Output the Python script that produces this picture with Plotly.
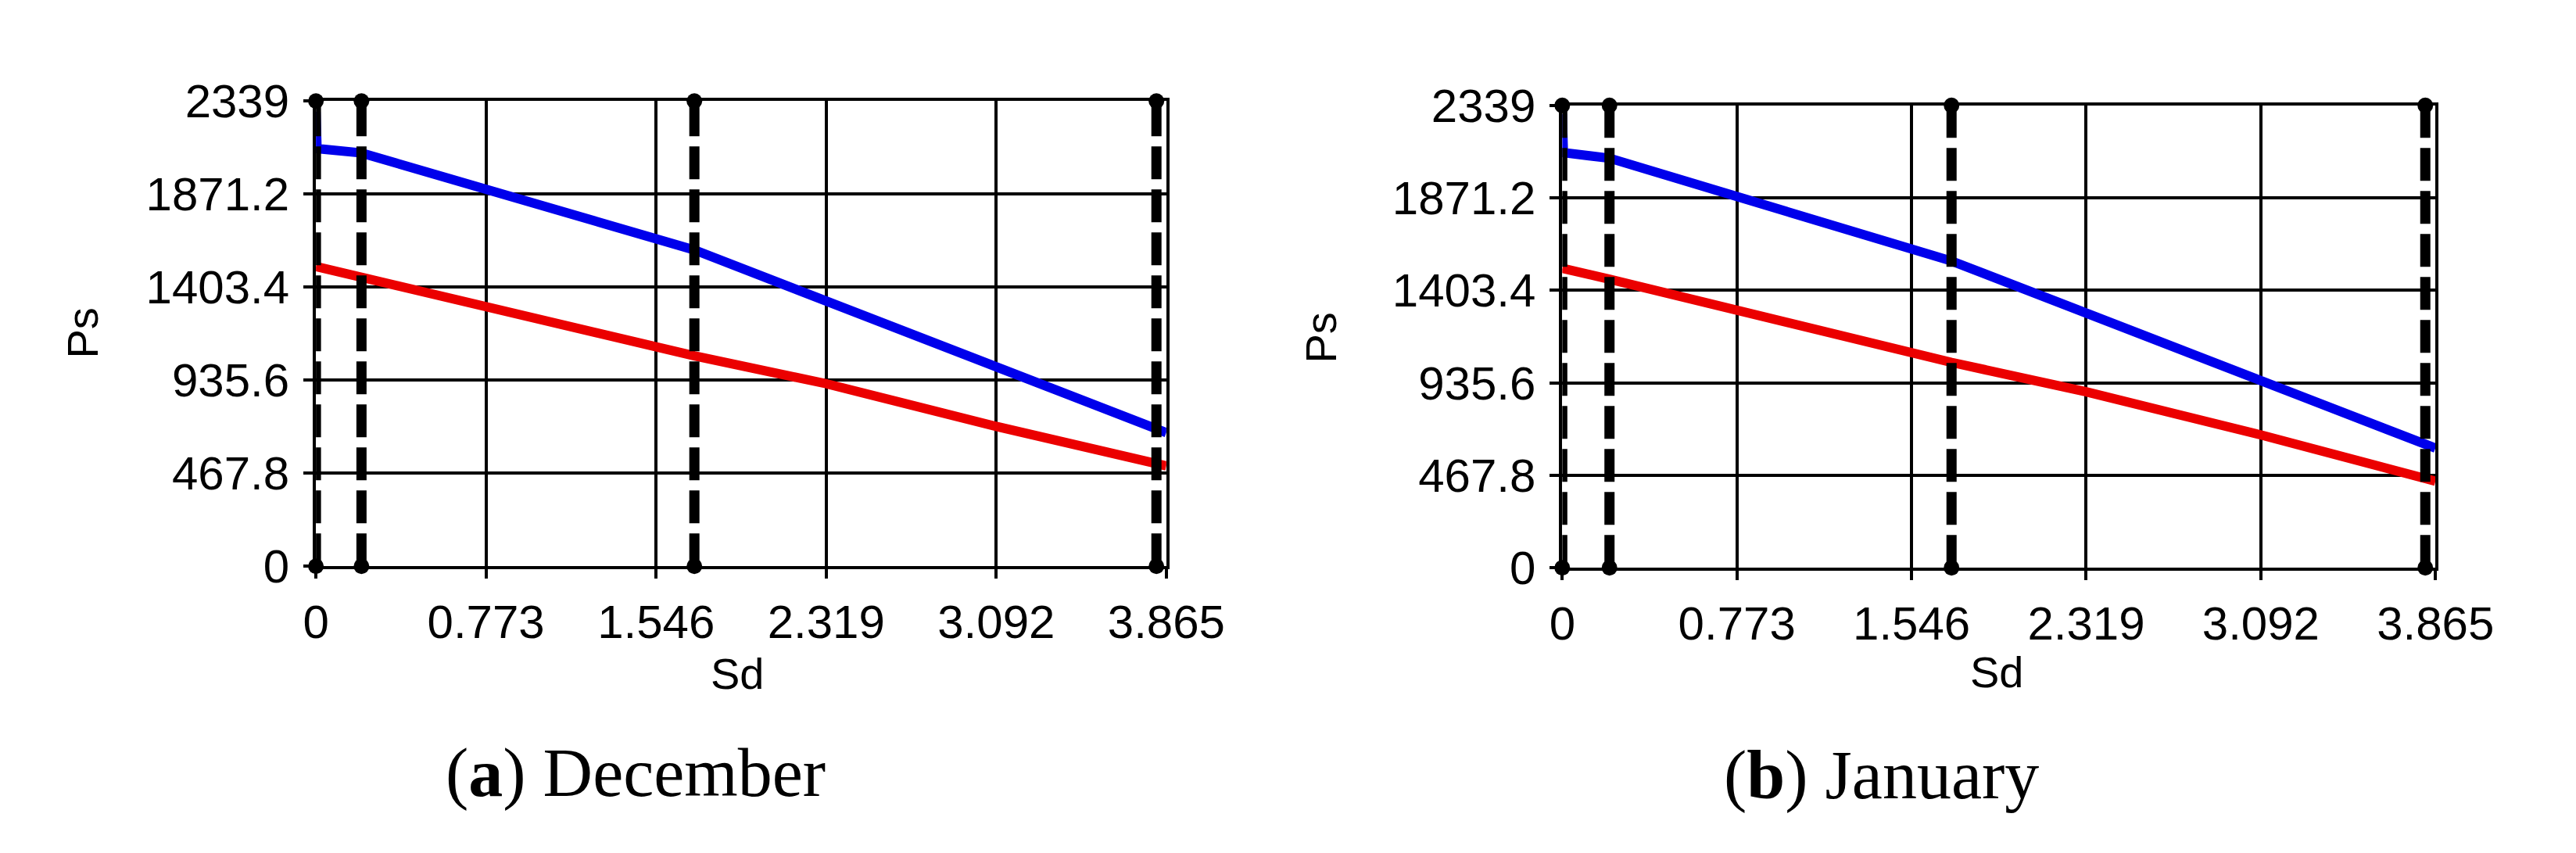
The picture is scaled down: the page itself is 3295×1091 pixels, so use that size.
import plotly.graph_objects as go

W, H = 3295, 1091

# ---------------- data ----------------
x_ticks = [0, 0.773, 1.546, 2.319, 3.092, 3.865]
x_tick_labels = ["0", "0.773", "1.546", "2.319", "3.092", "3.865"]
y_ticks = [0, 467.8, 935.6, 1403.4, 1871.2, 2339]
y_tick_labels = ["0", "467.8", "935.6", "1403.4", "1871.2", "2339"]

# December
dec_blue_x = [0, 0.005, 0.207, 1.72, 3.865]
dec_blue_y = [2285, 2100, 2078, 1590, 672]
dec_red_x = [0, 1.72, 2.319, 3.092, 3.865]
dec_red_y = [1507, 1058, 918, 703, 505]
dec_dashed_x = [0, 0.207, 1.72, 3.82]

# January
jan_blue_x = [0, 0.005, 0.209, 1.723, 3.865]
jan_blue_y = [2295, 2100, 2072, 1552, 605]
jan_red_x = [0, 0.209, 1.723, 2.319, 3.092, 3.865]
jan_red_y = [1515, 1460, 1039, 890, 672, 438]
jan_dashed_x = [0, 0.209, 1.723, 3.82]

y_min, y_max = 0, 2339
x_min, x_max = 0, 3.865

captions = ["(<b>a</b>) December", "(<b>b</b>) January"]

# ---------------- figure ----------------
fig = go.Figure()

BLUE = "rgb(0,0,235)"
RED = "rgb(235,0,0)"

panels = [
    (dec_blue_x, dec_blue_y, dec_red_x, dec_red_y, dec_dashed_x, "x", "y"),
    (jan_blue_x, jan_blue_y, jan_red_x, jan_red_y, jan_dashed_x, "x2", "y2"),
]

for bx, by, rx, ry, dxs, xa, ya in panels:
    fig.add_trace(go.Scatter(x=bx, y=by, mode="lines", line=dict(color=BLUE, width=12),
                             xaxis=xa, yaxis=ya, showlegend=False, cliponaxis=False))
    fig.add_trace(go.Scatter(x=rx, y=ry, mode="lines", line=dict(color=RED, width=12),
                             xaxis=xa, yaxis=ya, showlegend=False, cliponaxis=False))
    for dx in dxs:
        fig.add_trace(go.Scatter(x=[dx, dx], y=[y_min, y_max], mode="lines+markers",
                                 line=dict(color="black", width=13, dash="42px,13px"),
                                 marker=dict(color="black", size=20, symbol="circle"),
                                 xaxis=xa, yaxis=ya, showlegend=False, cliponaxis=False))

axis_common = dict(
    showgrid=True, gridcolor="black", gridwidth=4,
    showline=True, mirror=True, linecolor="black", linewidth=4,
    ticks="outside", ticklen=12, tickwidth=4, tickcolor="black",
    zeroline=False,
    tickfont=dict(family="Liberation Sans, Arial, sans-serif", size=60, color="black"),
)

fig.update_layout(
    width=W, height=H,
    margin=dict(l=0, r=0, t=0, b=0),
    paper_bgcolor="white", plot_bgcolor="white",
    xaxis=dict(domain=[390 / W, 1509 / W], range=[x_min, x_max], anchor="y",
               tickvals=x_ticks, ticktext=x_tick_labels, ticklabelstandoff=4, **axis_common),
    yaxis=dict(domain=[1 - 728 / H, 1 - 94 / H], range=[y_min, y_max], anchor="x",
               tickvals=y_ticks, ticktext=y_tick_labels, ticklabelstandoff=6, **axis_common),
    xaxis2=dict(domain=[2030 / W, 3179 / W], range=[x_min, x_max], anchor="y2",
                tickvals=x_ticks, ticktext=x_tick_labels, ticklabelstandoff=4, **axis_common),
    yaxis2=dict(domain=[1 - 730 / H, 1 - 100 / H], range=[y_min, y_max], anchor="x2",
                tickvals=y_ticks, ticktext=y_tick_labels, ticklabelstandoff=6, **axis_common),
)

label_font = dict(family="Liberation Sans, Arial, sans-serif", size=56, color="black")
cap_font = dict(family="Liberation Serif, Times New Roman, serif", size=88, color="black")

annos = [
    dict(text="Ps", x=83 / W, y=1 - 410 / H, textangle=-90, font=label_font),
    dict(text="Ps", x=1712 / W, y=1 - 417 / H, textangle=-90, font=label_font),
    dict(text="Sd", x=945 / W, y=1 - 874 / H, font=label_font),
    dict(text="Sd", x=2602 / W, y=1 - 872 / H, font=label_font),
    dict(text=captions[0], x=811 / W, y=1 - 1010 / H, font=cap_font),
    dict(text=captions[1], x=2450 / W, y=1 - 1013 / H, font=cap_font),
]
for a in annos:
    fig.add_annotation(xref="paper", yref="paper", showarrow=False,
                       xanchor="center", yanchor="middle", **a)

fig.write_html("out.html")
